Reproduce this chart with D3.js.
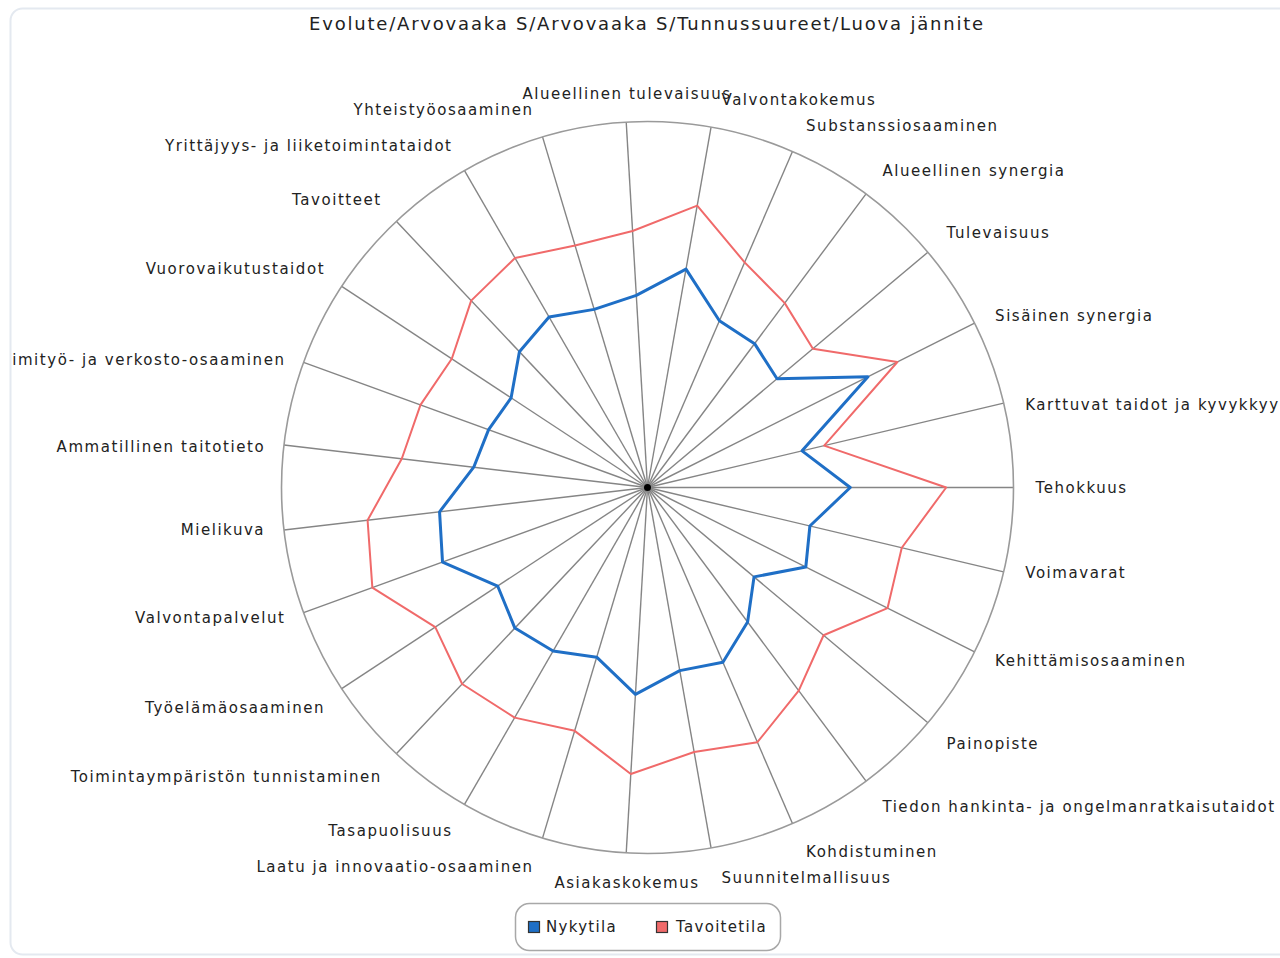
<!DOCTYPE html>
<html>
<head>
<meta charset="utf-8">
<script src="https://cdn.jsdelivr.net/npm/d3@7/dist/d3.min.js"></script>
<style>
  html, body { margin: 0; padding: 0; background: #fff; }
  #chart { width: 1280px; height: 958px; }
  text { font-family: "DejaVu Sans", Verdana, sans-serif; fill: #222; }
</style>
</head>
<body>
<div id="chart"></div>
<script>
// Akselit vastapäivään, alkaen oikealta (Tehokkuus)
var categories = [
  "Tehokkuus", "Karttuvat taidot ja kyvykkyydet", "Sisäinen synergia", "Tulevaisuus",
  "Alueellinen synergia", "Substanssiosaaminen", "Valvontakokemus", "Alueellinen tulevaisuus",
  "Yhteistyöosaaminen", "Yrittäjyys- ja liiketoimintataidot", "Tavoitteet", "Vuorovaikutustaidot",
  "Tiimityö- ja verkosto-osaaminen", "Ammatillinen taitotieto", "Mielikuva", "Valvontapalvelut",
  "Työelämäosaaminen", "Toimintaympäristön tunnistaminen", "Tasapuolisuus", "Laatu ja innovaatio-osaaminen",
  "Asiakaskokemus", "Suunnitelmallisuus", "Kohdistuminen", "Tiedon hankinta- ja ongelmanratkaisutaidot",
  "Painopiste", "Kehittämisosaaminen", "Voimavarat"
];
var seriesNames = ["Nykytila", "Tavoitetila"];
var nykytila = [2.77, 2.17, 3.37, 2.31, 2.45, 2.48, 3.03, 2.63, 2.54, 2.69, 2.55, 2.23, 2.31, 2.39,
  2.86, 2.98, 2.45, 2.64, 2.58, 2.42, 2.83, 2.54, 2.60, 2.29, 1.90, 2.42, 2.28];
var tavoitetila = [4.08, 2.48, 3.82, 2.95, 3.14, 3.35, 3.91, 3.51, 3.45, 3.62, 3.51, 3.20, 3.30, 3.38,
  3.85, 4.00, 3.47, 3.69, 3.63, 3.47, 3.92, 3.67, 3.79, 3.46, 3.14, 3.67, 3.57];
var valueMax = 5;
var title = "Evolute/Arvovaaka S/Arvovaaka S/Tunnussuureet/Luova jännite";

var colors = { nyky: "#1f6fc6", tavoite: "#f06a6a", spoke: "#858585", rim: "#9a9a9a" };

var W = 1280, H = 958;
var cx = 647.5, cy = 487.5, R = 366;
var n = categories.length;
var ls = 1.55; // kirjainväli

var svg = d3.select("#chart").append("svg")
  .attr("width", W).attr("height", H);

// Paneeli, sisältö leikataan sen reunaan
svg.append("clipPath").attr("id", "panel-clip")
  .append("rect")
  .attr("x", 11).attr("y", 9)
  .attr("width", 1300).attr("height", 945)
  .attr("rx", 12);

svg.append("rect")
  .attr("x", 10.5).attr("y", 8.5)
  .attr("width", 1300).attr("height", 946)
  .attr("rx", 12)
  .attr("fill", "#fff")
  .attr("stroke", "#e4e9f0")
  .attr("stroke-width", 2);

var panel = svg.append("g").attr("clip-path", "url(#panel-clip)");

panel.append("text")
  .attr("x", 647).attr("y", 30)
  .attr("text-anchor", "middle")
  .style("font-size", "18px")
  .style("letter-spacing", "1.8px")
  .text(title);

// Skaalat
var angle = d3.scaleLinear().domain([0, n]).range([0, 2 * Math.PI]);
var r = d3.scaleLinear().domain([0, valueMax]).range([0, R]);

var g = panel.append("g").attr("transform", "translate(" + cx + "," + cy + ")");

// Säteet
g.selectAll(".spoke")
  .data(categories)
  .enter().append("line")
  .attr("class", "spoke")
  .attr("x1", 0).attr("y1", 0)
  .attr("x2", function(d, i) { return r(valueMax) * Math.cos(angle(i)); })
  .attr("y2", function(d, i) { return -r(valueMax) * Math.sin(angle(i)); })
  .attr("stroke", colors.spoke)
  .attr("stroke-width", 1.4);

g.append("circle")
  .attr("r", r(valueMax))
  .attr("fill", "none")
  .attr("stroke", colors.rim)
  .attr("stroke-width", 1.6);

g.append("circle").attr("r", 3.5).attr("fill", "#000");

// Sarjat
var line = d3.lineRadial()
  .angle(function(d, i) { return Math.PI / 2 - angle(i); })
  .radius(function(d) { return r(d); })
  .curve(d3.curveLinearClosed);

g.append("path")
  .datum(nykytila)
  .attr("d", line)
  .attr("fill", "none")
  .attr("stroke", colors.nyky)
  .attr("stroke-width", 3)
  .attr("stroke-linejoin", "round");

g.append("path")
  .datum(tavoitetila)
  .attr("d", line)
  .attr("fill", "none")
  .attr("stroke", colors.tavoite)
  .attr("stroke-width", 2)
  .attr("stroke-linejoin", "round");

// Akselien nimet
g.selectAll(".axis-label")
  .data(categories)
  .enter().append("text")
  .attr("class", "axis-label")
  .style("font-size", "15px")
  .style("letter-spacing", ls + "px")
  .attr("text-anchor", function(d, i) {
    var c = Math.cos(angle(i));
    return c > 0.1 ? "start" : (c < -0.1 ? "end" : "middle");
  })
  .attr("x", function(d, i) {
    var c = Math.cos(angle(i));
    var base = R * c;
    if (Math.abs(c) < 0.1) return base + ls / 2;
    return base + (c > 0 ? 1 : -1) * (8 + 14 * Math.abs(c)) + (c < 0 ? ls + 1.5 : 0);
  })
  .attr("y", function(d, i) {
    var s = Math.sin(angle(i));
    var a = Math.abs(s);
    var off = a < 0.5 ? Math.max(0, 40 * (a - 0.22)) : 18 + 12 * (a - 0.5) / 0.5;
    return -R * s - (s > 0 ? 1 : -1) * off + (s > 0 ? 2 : 0);
  })
  .attr("dy", "0.35em")
  .text(function(d) { return d; });

// Selite
var legend = panel.append("g").attr("transform", "translate(515,903)");
legend.append("rect")
  .attr("x", 0.5).attr("y", 0.5)
  .attr("width", 265).attr("height", 47)
  .attr("rx", 14)
  .attr("fill", "#fff")
  .attr("stroke", "#a8a8a8")
  .attr("stroke-width", 1.5);

var items = legend.selectAll(".item")
  .data(seriesNames)
  .enter().append("g")
  .attr("class", "item")
  .attr("transform", function(d, i) { return "translate(" + (13 + i * 128) + ",0)"; });
items.append("rect")
  .attr("x", 0.5).attr("y", 18.5)
  .attr("width", 11).attr("height", 11)
  .attr("fill", function(d, i) { return i === 0 ? colors.nyky : colors.tavoite; })
  .attr("stroke", "#333")
  .attr("stroke-width", 1.2);
items.append("text")
  .attr("x", function(d, i) { return i === 0 ? 18 : 20; })
  .attr("y", 24)
  .attr("dy", "0.35em")
  .style("font-size", "15px")
  .style("letter-spacing", "1.3px")
  .text(function(d) { return d; });
</script>
</body>
</html>
